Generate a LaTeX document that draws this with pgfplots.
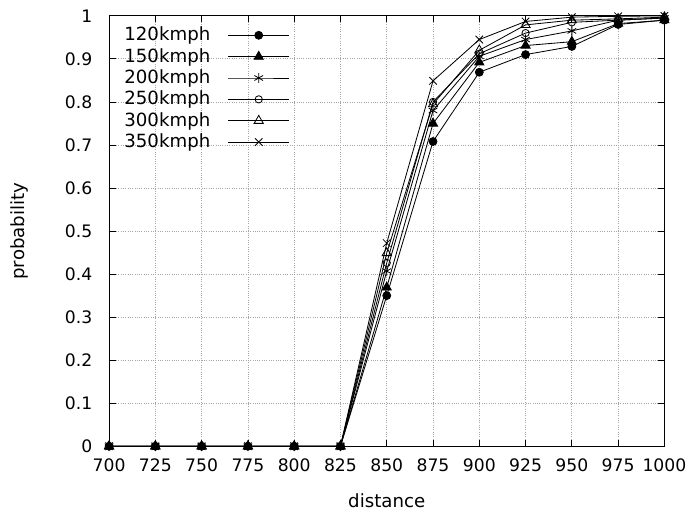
\documentclass[border=0pt]{standalone}
\usepackage{fontspec}
\setmainfont{DejaVu Sans}
\usepackage{pgfplots}
\pgfplotsset{compat=1.18}

\begin{document}
\fontsize{10.4}{12.5}\selectfont
\begin{tikzpicture}
\begin{axis}[
  scale only axis,
  width=336pt, height=260.4pt,
  xmin=700, xmax=1000, ymin=0, ymax=1,
  xtick={700,725,...,1000}, ytick={0,0.1,...,1},
  /pgf/number format/assume math mode=true,
  /pgf/number format/fixed, /pgf/number format/precision=1,
  xticklabel style={/pgf/number format/1000 sep={}, yshift=-4pt},
  yticklabel style={xshift=-6.5pt},
  tick align=inside, major tick length=4pt,
  tick style={black, line width=0.5pt},
  axis line style={black, line width=0.5pt},
  grid=major, grid style={densely dotted, gray!70, line width=0.5pt},
  xlabel={distance}, ylabel={probability},
  label style={font=\fontsize{11}{13}\selectfont},
  xlabel style={at={(axis description cs:0.5,-0.127)}, anchor=center},
  ylabel style={at={(axis description cs:-0.1607,0.5)}, anchor=center},
  legend plot pos=right,
  legend style={at={(axis description cs:0.012,0.99)}, anchor=north west,
    draw=none, fill=none, font=\fontsize{11}{12.5}\selectfont, row sep=-1pt},
  legend image code/.code={\path (0cm,0cm); \draw[mark repeat=2,mark phase=2,#1] plot coordinates {(0.3cm,0cm) (0.95cm,0cm) (1.6cm,0cm)};},
  every axis plot/.append style={black, line width=0.5pt},
]
\addplot[mark=*, mark size=2.4pt] coordinates
 {(700,0)(725,0)(750,0)(775,0)(800,0)(825,0)(850,0.35)(875,0.708)(900,0.869)(925,0.910)(950,0.929)(975,0.980)(1000,0.990)};
\addplot[mark=triangle*, mark size=3.2pt] coordinates
 {(700,0)(725,0)(750,0)(775,0)(800,0)(825,0)(850,0.369)(875,0.750)(900,0.892)(925,0.931)(950,0.940)(975,0.982)(1000,0.990)};
\addplot[mark=asterisk, mark size=3pt] coordinates
 {(700,0)(725,0)(750,0)(775,0)(800,0)(825,0)(850,0.407)(875,0.780)(900,0.906)(925,0.945)(950,0.965)(975,0.990)(1000,0.995)};
\addplot[mark=o, mark size=2.2pt] coordinates
 {(700,0)(725,0)(750,0)(775,0)(800,0)(825,0)(850,0.426)(875,0.800)(900,0.912)(925,0.960)(950,0.985)(975,0.990)(1000,0.995)};
\addplot[mark=triangle, mark size=3.2pt] coordinates
 {(700,0)(725,0)(750,0)(775,0)(800,0)(825,0)(850,0.449)(875,0.795)(900,0.920)(925,0.979)(950,0.990)(975,0.993)(1000,0.997)};
\addplot[mark=x, mark size=3.2pt] coordinates
 {(700,0)(725,0)(750,0)(775,0)(800,0)(825,0)(850,0.472)(875,0.849)(900,0.945)(925,0.987)(950,0.997)(975,0.999)(1000,1.000)};
\legend{120kmph,150kmph,200kmph,250kmph,300kmph,350kmph}
\end{axis}
\path (current axis.south west) ++(-66pt,-37.8pt) (current axis.north east) ++(13.2pt,9.6pt);
\end{tikzpicture}
\end{document}
